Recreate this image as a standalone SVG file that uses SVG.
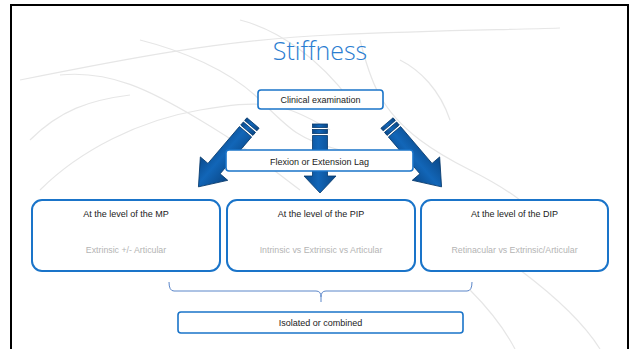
<svg xmlns="http://www.w3.org/2000/svg" width="632" height="349" viewBox="0 0 632 349">
<defs>
<style>
.bg{fill:none;stroke:#e6e6e6;stroke-width:1.2}
.box{fill:#fff;stroke:#1a74c9;stroke-width:1.6}
.big{fill:#fff;stroke:#1a74c9;stroke-width:2}
.t{font-family:"Liberation Sans",Arial,sans-serif;font-size:9px;fill:#222;text-anchor:middle}
.sub{font-family:"Liberation Sans",Arial,sans-serif;font-size:8.8px;fill:#b4b4b4;text-anchor:middle}
.arr{fill:url(#ag);stroke:#06386b;stroke-width:0.8}
</style>
<linearGradient id="ag" x1="0" y1="0" x2="1" y2="0">
<stop offset="0" stop-color="#0a4a8c"/>
<stop offset="0.45" stop-color="#1266b8"/>
<stop offset="1" stop-color="#0a4786"/>
</linearGradient>
<g id="darrow">
<rect x="-8" y="0" width="16" height="3.5"/>
<rect x="-8" y="5.5" width="16" height="4"/>
<path d="M-8 11.5 H8 V60 H18 L0 84 L-18 60 H-8 Z"/>
</g>
</defs>
<rect width="632" height="349" fill="#fff"/>
<g id="background">
<path class="bg" d="M20 80 C120 60 220 40 330 35 S500 30 560 28"/>
<path class="bg" d="M40 190 C80 150 140 120 200 110 S280 100 330 130"/>
<path class="bg" d="M60 75 C110 70 150 90 200 120 S260 160 300 190"/>
<path class="bg" d="M140 40 C180 50 230 70 260 100 S300 140 340 150"/>
<path class="bg" d="M360 40 C370 80 380 110 420 140 S480 170 520 200"/>
<path class="bg" d="M400 60 C420 70 440 90 450 120"/>
<path class="bg" d="M520 270 C560 300 585 325 600 349"/>
<path class="bg" d="M470 290 C490 310 505 330 515 349"/>
<path class="bg" d="M30 140 C60 110 90 100 130 95"/>
<path class="bg" d="M240 20 C280 30 320 60 350 100"/>
</g>
<rect x="11" y="5" width="617" height="352" fill="none" stroke="#000" stroke-width="2"/>
<text x="320" y="60" font-family="'Open Sans','Liberation Sans',sans-serif" font-weight="300" font-size="25" fill="#2a7dd1" text-anchor="middle">Stiffness</text>
<g id="connectors">
<g class="arr" transform="translate(253,123) rotate(40.5)"><use href="#darrow"/></g>
<g class="arr" transform="translate(320,124)"><rect x="-7.5" y="0" width="15" height="3.5"/><rect x="-7.5" y="5.5" width="15" height="4"/><path d="M-7.5 11.5 H7.5 V52 H16 L0 69 L-16 52 H-7.5 Z"/></g>
<g class="arr" transform="translate(387,123) rotate(-40.5)"><use href="#darrow"/></g>
<path d="M169 282 Q169 291 174 291 H316 Q321 291 321 297 V302 M321 297 Q321 291 326 291 H467 Q472 291 472 282" fill="none" stroke="#5b86c9" stroke-width="1"/>
</g>
<g id="clinical">
<rect class="box" x="258" y="90" width="125" height="19" rx="3"/>
<text class="t" x="320.5" y="103">Clinical examination</text>
</g>
<g id="lag">
<rect class="box" x="226" y="150" width="187" height="21" rx="3"/>
<text class="t" x="319.5" y="164.5" font-size="11">Flexion or Extension Lag</text>
</g>
<g id="mp">
<rect class="big" x="32" y="200" width="188" height="71" rx="10"/>
<text class="t" x="126" y="216.5" font-size="10">At the level of the MP</text>
<text class="sub" x="126" y="253">Extrinsic +/- Articular</text>
</g>
<g id="pip">
<rect class="big" x="227" y="200" width="188" height="71" rx="10"/>
<text class="t" x="321" y="216.5" font-size="10">At the level of the PIP</text>
<text class="sub" x="321" y="253">Intrinsic vs Extrinsic vs Articular</text>
</g>
<g id="dip">
<rect class="big" x="421" y="200" width="187" height="71" rx="10"/>
<text class="t" x="514.5" y="216.5" font-size="10">At the level of the DIP</text>
<text class="sub" x="514.5" y="253">Retinacular vs Extrinsic/Articular</text>
</g>
<g id="combined">
<rect class="box" x="178" y="312" width="285" height="21" rx="3"/>
<text class="t" x="320.5" y="326">Isolated or combined</text>
</g>
</svg>
